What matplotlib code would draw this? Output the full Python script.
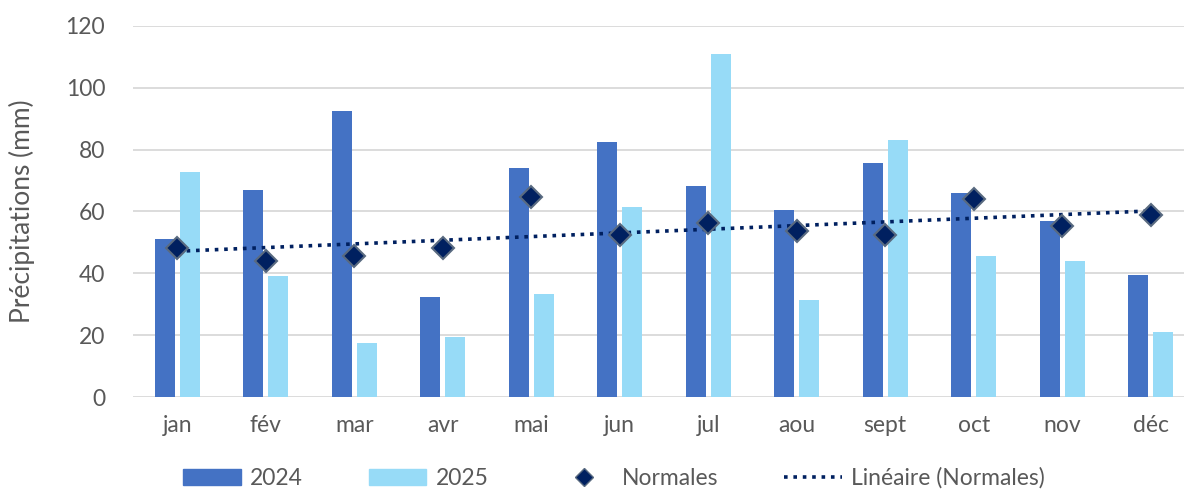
import matplotlib.pyplot as plt
from matplotlib.lines import Line2D
from matplotlib.patches import Patch
import numpy as np

mois = ['jan', 'fév', 'mar', 'avr', 'mai', 'jun', 'jul', 'aou', 'sept', 'oct', 'nov', 'déc']
p2024 = [51.1, 67.0, 92.5, 32.2, 74.2, 82.5, 68.4, 60.6, 75.7, 66.0, 57.0, 39.6]
p2025 = [72.8, 39.1, 17.4, 19.3, 33.3, 61.6, 111.1, 31.5, 83.1, 45.6, 44.0, 21.1]
normales = [48.1, 44.1, 45.7, 48.2, 64.8, 52.4, 56.4, 53.8, 52.4, 63.9, 55.2, 59.0]

c2024 = '#4472C4'
c2025 = '#97DBF7'
cnorm = '#002060'
gris = '#595959'

plt.rcParams['font.family'] = ['Lato', 'DejaVu Sans']

fig = plt.figure(figsize=(11.84, 4.9), dpi=100)
# axes reaches a bit past the right edge, like the original
ax = fig.add_axes([133 / 1184, 1 - 397 / 490, 1062 / 1184, 371 / 490])

x = np.arange(len(mois))
w = 0.226
ax.bar(x - 0.141, p2024, w, color=c2024, zorder=2)
ax.bar(x + 0.141, p2025, w, color=c2025, zorder=2)

# linear trend of the normals
a, b = np.polyfit(x, normales, 1)
ax.plot(x, a * x + b, color=cnorm, linestyle=(0, (1, 1.6)), linewidth=2.6, zorder=3)
ax.plot(x, normales, linestyle='none', marker='D', markersize=11,
        markerfacecolor=cnorm, markeredgecolor='#596a80', markeredgewidth=1.5, zorder=4)

ax.set_xlim(-0.5, 11.5)
ax.set_ylim(0, 120)
ax.set_yticks(range(0, 121, 20))
ax.set_xticks(x)
ax.set_xticklabels(mois)
ax.grid(axis='y', color='#d9d9d9', linewidth=1.3, zorder=0)
for s in ax.spines.values():
    s.set_visible(False)
ax.tick_params(length=0, labelsize=16.5, labelcolor=gris)
ax.tick_params(axis='y', pad=20)
ax.tick_params(axis='x', pad=13)
ax.set_ylabel('Précipitations (mm)', fontsize=19, color=gris, labelpad=22)

handles = [
    Patch(color=c2024, label='2024'),
    Patch(color=c2025, label='2025'),
    Line2D([], [], linestyle='none', marker='D', markersize=9, markerfacecolor=cnorm,
           markeredgecolor='#596a80', label='Normales'),
    Line2D([], [], color=cnorm, linestyle=(0, (1, 1.6)), linewidth=2.6, label='Linéaire (Normales)'),
]
leg = fig.legend(handles=handles, loc='center', bbox_to_anchor=(614 / 1184, 1 - 478 / 490),
                 ncol=4, frameon=False, fontsize=16.5, handlelength=2.5, handleheight=0.7,
                 columnspacing=2.9, handletextpad=0.4)
for t in leg.get_texts():
    t.set_color(gris)

fig.savefig('out.png', dpi=100)
